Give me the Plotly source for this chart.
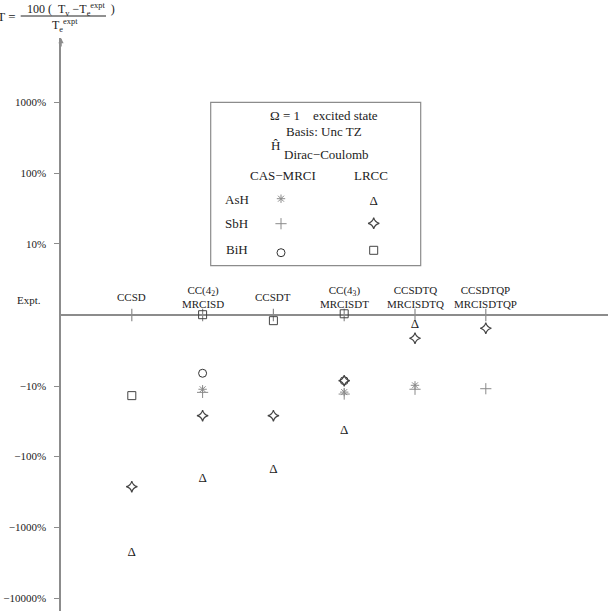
import numpy as np
import plotly.graph_objects as go

# ---------------- data (percent deviation from experiment) ----------------
cat_top = ["CCSD", "CC(4<sub>2</sub>)", "CCSDT", "CC(4<sub>3</sub>)", "CCSDTQ", "CCSDTQP"]
cat_bottom = ["", "MRCISD", "", "MRCISDT", "MRCISDTQ", "MRCISDTQP"]

mrci_AsH = [None, -11.1, None, -12.2, -9.74, None]
mrci_SbH = [None, -12.3, None, -13.0, -11.1, -10.9]
mrci_BiH = [None, -6.5, None, -8.35, None, None]
lrcc_AsH = [-2250, -207, -153, -43.0, -0.66, None]
lrcc_SbH = [-266, -26.4, -26.4, -8.35, -1.66, -0.89]
lrcc_BiH = [-13.7, 0.02, -0.37, 0.08, None, None]

tick_values = [1000, 100, 10, -10, -100, -1000, -10000]
tick_labels = ["1000%", "100%", "10%", "\u221210%", "\u2212100%", "\u22121000%", "\u221210000%"]

# ---------------- helpers ----------------
def tr(v):
    """symmetric log transform (asinh) used for the vertical scale"""
    return float(np.arcsinh(v / 2.0) / np.log(10.0))

xs = list(range(1, len(cat_top) + 1))

def series(vals):
    px_, py_ = [], []
    for x, v in zip(xs, vals):
        if v is not None:
            px_.append(x)
            py_.append(tr(v))
    return px_, py_

SERIF = "Liberation Serif, Times New Roman, serif"
AX = "#8c8c8c"
DARK = "#333333"
LIGHT = "#8a8a8a"

W, H = 615, 613
ML, MR, MT, MB = 61, 7, 38, 2
DEC = 70.8
Y0 = 315
ytop = (Y0 - MT) / DEC
ybot = -((H - MB) - Y0) / DEC
xmax = (W - MR - ML) / DEC

def pxx(xp):
    return (xp - ML) / (W - ML - MR)

def pxy(yp):
    return ((H - MB) - yp) / (H - MT - MB)

fig = go.Figure()

# category tick marks on the Expt. line
fig.add_trace(go.Scatter(x=xs, y=[0] * len(xs), mode="markers",
                         marker=dict(symbol="line-ns-open", size=9, color=AX,
                                     line=dict(color=AX, width=1.2)),
                         hoverinfo="skip", showlegend=False))

def add_marker(vals, symbol, size, color, width=1.0):
    x, y = series(vals)
    fig.add_trace(go.Scatter(x=x, y=y, mode="markers", cliponaxis=False,
                             marker=dict(symbol=symbol, size=size, color=color,
                                         line=dict(color=color, width=width)),
                             showlegend=False))

add_marker(mrci_AsH, "asterisk-open", 7, LIGHT, 1.0)
add_marker(mrci_SbH, "cross-thin-open", 8, LIGHT, 1.0)
add_marker(mrci_BiH, "circle-open", 8, DARK, 1.0)
add_marker(lrcc_SbH, "star-diamond-open", 8, "#444444", 1.2)
add_marker(lrcc_BiH, "square-open", 8, "#444444", 1.0)
x, y = series(lrcc_AsH)
fig.add_trace(go.Scatter(x=x, y=y, mode="text", text=["\u0394"] * len(x),
                         textposition="middle center", cliponaxis=False,
                         textfont=dict(family=SERIF, size=13, color="#222222"),
                         showlegend=False))

# ---------------- legend (drawn on pixel-scaled overlay axes) ----------------
def leg_marker(x, y, symbol, size, color, width=1.0):
    fig.add_trace(go.Scatter(x=[x], y=[y], xaxis="x2", yaxis="y2", mode="markers",
                             marker=dict(symbol=symbol, size=size, color=color,
                                         line=dict(color=color, width=width)),
                             showlegend=False))

leg_marker(281, 198.7, "asterisk-open", 7, LIGHT)
leg_marker(281, 223.7, "cross-thin-open", 8, LIGHT)
leg_marker(281, 252.7, "circle-open", 8, DARK)
fig.add_trace(go.Scatter(x=[373.7], y=[201.7], xaxis="x2", yaxis="y2", mode="text", text=["\u0394"],
                         textfont=dict(family=SERIF, size=13, color="#222222"), showlegend=False))
leg_marker(373.7, 223.3, "star-diamond-open", 8, "#444444", 1.2)
leg_marker(373.7, 250.3, "square-open", 8, "#444444")

shapes = [dict(type="rect", xref="x2", yref="y2", x0=210.7, x1=420.7, y0=102.3, y1=265.7,
               line=dict(color=AX, width=1.2), fillcolor="rgba(0,0,0,0)")]

annotations = []
def ptxt(x, y, text, size=13, xanchor="center", yanchor="middle"):
    annotations.append(dict(xref="paper", yref="paper", x=pxx(x), y=pxy(y), text=text,
                            showarrow=False, xanchor=xanchor, yanchor=yanchor,
                            font=dict(family=SERIF, size=size, color="#222222")))

ptxt(323.5, 115.7, "\u03a9 = 1\u00a0\u00a0\u00a0\u00a0excited state")
ptxt(324, 131, "Basis: Unc TZ")
ptxt(275, 145, "\u0124", size=13)
ptxt(326.5, 154.3, "Dirac\u2212Coulomb")
ptxt(283, 175.7, "CAS\u2212MRCI")
ptxt(371, 175.7, "LRCC")
ptxt(236.7, 199.3, "AsH")
ptxt(236.7, 223.3, "SbH")
ptxt(236.7, 249.3, "BiH")

# Expt. label
ptxt(29, 300, "Expt.", size=11)

# title formula (above plot area)
ptxt(18, 17, "\u0394T =", size=13, xanchor="right")
ptxt(25, 9, "100 (\u00a0\u00a0T<sub>v</sub> \u2212T<sub>e</sub><sup>expt</sup>\u00a0\u00a0)", size=12, xanchor="left")
ptxt(64.5, 26, "T<sub>e</sub><sup>expt</sup>", size=12)
shapes.append(dict(type="line", xref="paper", yref="paper", x0=pxx(20.7), x1=pxx(106),
                   y0=pxy(16), y1=pxy(16), line=dict(color="#222222", width=1)))

# category labels
for xv, t, b in zip(xs, cat_top, cat_bottom):
    txt = t if not b else t + "<br>" + b
    annotations.append(dict(x=xv, y=0, xref="x", yref="y", text=txt, showarrow=False,
                            yanchor="middle", yshift=18,
                            font=dict(family=SERIF, size=11, color="#222222")))

# arrow head at top of vertical axis
annotations.append(dict(x=0, y=ytop, xref="x", yref="y", ax=0, ay=10, text="",
                        showarrow=True, arrowhead=2, arrowsize=0.7, arrowwidth=1.5,
                        arrowcolor=AX))

fig.update_layout(
    width=W, height=H,
    margin=dict(l=ML, r=MR, t=MT, b=MB),
    paper_bgcolor="white", plot_bgcolor="white",
    showlegend=False,
    xaxis=dict(range=[0, xmax], visible=False, fixedrange=True),
    yaxis=dict(range=[ybot, ytop], showgrid=False, zeroline=True,
               zerolinecolor=AX, zerolinewidth=1.5,
               showline=True, linecolor=AX, linewidth=1.5,
               ticks="outside", ticklen=5, tickcolor=AX, tickwidth=1.2,
               tickvals=[tr(v) for v in tick_values], ticktext=tick_labels,
               ticklabelstandoff=6,
               tickfont=dict(family=SERIF, size=11, color="#222222")),
    xaxis2=dict(range=[ML, W - MR], overlaying="x", visible=False, fixedrange=True),
    yaxis2=dict(range=[H - MB, MT], overlaying="y", visible=False, fixedrange=True),
    shapes=shapes,
    annotations=annotations,
)

fig.write_html("out.html")
